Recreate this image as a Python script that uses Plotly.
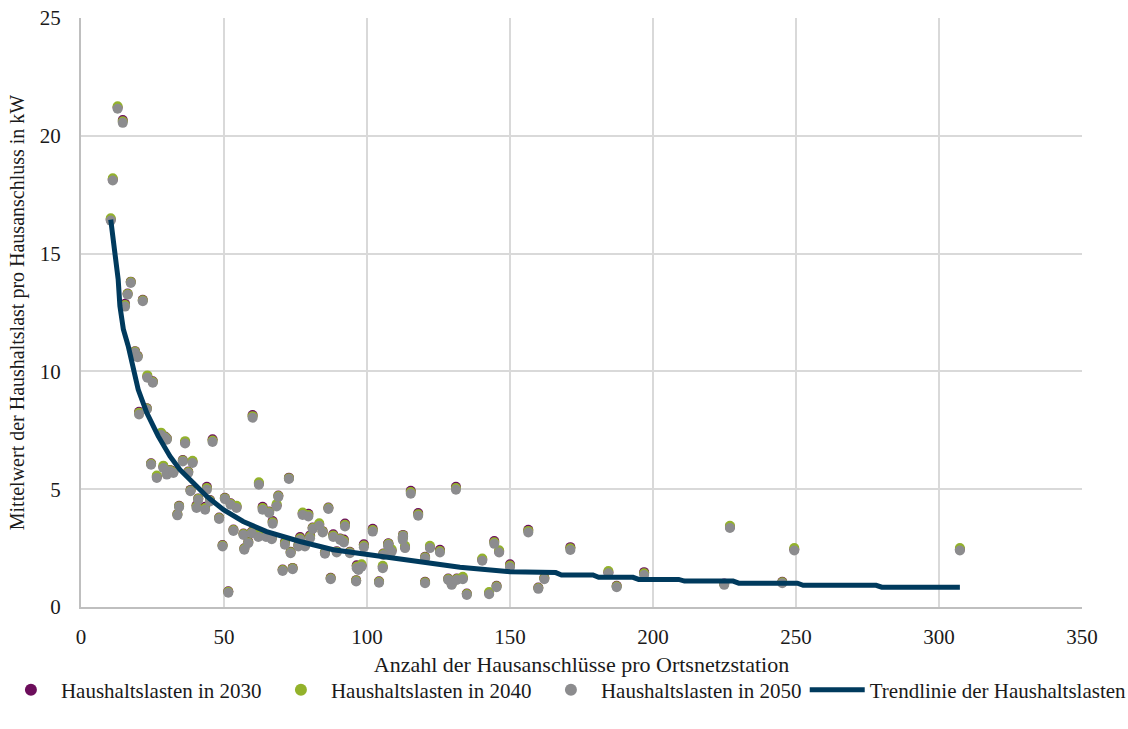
import plotly.graph_objects as go

# Stations: number of house connections per substation (x) and mean household load in kW
stations_x = [10.4, 11.1, 12.8, 14.6, 17.4, 16.3, 15.4, 21.6, 18.9, 19.8,
              23.2, 25.1, 20.3, 23.0, 28.0, 29.4, 30.0, 36.4, 46.0, 24.5,
              26.5, 28.8, 31.1, 30.0, 35.6, 39.0, 37.5, 32.3, 38.3, 44.0,
              41.0, 34.3, 33.7, 40.4, 43.4, 45.1, 48.3, 50.3, 52.3, 54.4,
              53.3, 49.5, 51.5, 56.8, 57.1, 60.0, 62.2, 72.7, 69.0, 68.4,
              63.5, 65.8, 67.0, 59.7, 62.0, 64.7, 66.7, 58.5, 71.3, 73.3,
              70.5, 74.0, 77.5, 79.5, 86.5, 81.0, 83.3, 84.5, 76.6, 80.1,
              76.0, 78.3, 85.3, 88.2, 90.6, 91.9, 89.4, 92.3, 87.3, 94.0,
              96.4, 96.2, 115.3, 131.1, 117.9, 102.0, 112.5, 113.3, 98.9, 107.4,
              108.6, 105.7, 122.0, 125.5, 120.3, 98.1, 97.0, 105.5, 104.2, 120.3,
              128.4, 129.6, 131.4, 133.5, 134.9, 156.4, 144.5, 146.2, 140.3, 150.0,
              142.7, 145.3, 162.0, 159.9, 171.1, 184.4, 187.3, 196.9, 226.9, 224.9,
              249.4, 245.2, 307.3, 112.6, 107.5]

load_2050 = [16.40, 18.10, 21.15, 20.55, 13.75, 13.25, 12.75, 12.98, 10.80, 10.60,
             9.73, 9.52, 8.17, 8.38, 7.30, 7.18, 7.10, 6.94, 7.00, 6.04,
             5.48, 5.90, 5.76, 5.62, 6.18, 6.11, 5.69, 5.69, 4.91, 4.98,
             4.55, 4.24, 3.89, 4.20, 4.13, 4.48, 3.74, 4.58, 4.34, 4.20,
             3.23, 2.57, 0.61, 3.06, 2.43, 8.03, 5.19, 5.43, 4.67, 4.27,
             4.13, 3.99, 3.53, 3.13, 2.97, 2.97, 2.88, 2.71, 2.64, 2.28,
             1.53, 1.60, 3.91, 3.84, 4.16, 3.31, 3.45, 3.16, 2.85, 2.92,
             2.57, 2.57, 2.26, 2.97, 2.85, 2.74, 2.31, 3.42, 1.18, 2.28,
             1.65, 1.08, 4.81, 4.98, 3.87, 3.20, 2.85, 2.50, 2.54, 2.57,
             2.35, 2.21, 2.50, 2.31, 2.07, 1.71, 1.57, 1.65, 1.03, 1.01,
             1.15, 0.94, 1.15, 1.18, 0.51, 3.16, 2.68, 2.31, 1.96, 1.69,
             0.54, 0.84, 1.18, 0.77, 2.42, 1.43, 0.84, 1.36, 3.35, 0.94,
             2.40, 1.01, 2.40, 3.00, 2.64]

load_2040 = [16.50, 18.20, 21.25, 20.62, 13.79, 13.29, 12.82, 13.02, 10.84, 10.64,
             9.83, 9.56, 8.24, 8.42, 7.40, 7.22, 7.14, 7.04, 7.07, 6.08,
             5.58, 6.00, 5.80, 5.66, 6.22, 6.21, 5.73, 5.73, 4.95, 5.05,
             4.59, 4.28, 3.93, 4.27, 4.20, 4.52, 3.78, 4.62, 4.38, 4.30,
             3.27, 2.61, 0.65, 3.10, 2.47, 8.10, 5.29, 5.47, 4.71, 4.37,
             4.20, 4.03, 3.60, 3.17, 3.07, 3.01, 2.92, 2.75, 2.71, 2.32,
             1.57, 1.64, 4.01, 3.91, 4.20, 3.35, 3.55, 3.20, 2.92, 2.99,
             2.61, 2.61, 2.30, 3.04, 2.89, 2.81, 2.35, 3.49, 1.22, 2.32,
             1.72, 1.12, 4.88, 5.05, 3.94, 3.27, 2.92, 2.60, 2.61, 2.64,
             2.45, 2.25, 2.60, 2.38, 2.11, 1.81, 1.61, 1.75, 1.07, 1.05,
             1.19, 0.98, 1.19, 1.28, 0.55, 3.23, 2.75, 2.41, 2.06, 1.76,
             0.64, 0.88, 1.22, 0.81, 2.49, 1.53, 0.88, 1.43, 3.45, 0.98,
             2.50, 1.05, 2.50, 3.04, 2.68]

load_2030 = [16.45, 18.15, 21.20, 20.67, 13.81, 13.31, 12.87, 13.04, 10.86, 10.66,
             9.78, 9.58, 8.29, 8.44, 7.35, 7.24, 7.16, 6.99, 7.12, 6.10,
             5.53, 5.95, 5.82, 5.68, 6.24, 6.16, 5.75, 5.75, 4.97, 5.10,
             4.61, 4.30, 3.95, 4.32, 4.25, 4.54, 3.80, 4.64, 4.40, 4.25,
             3.29, 2.63, 0.67, 3.12, 2.49, 8.15, 5.24, 5.49, 4.73, 4.32,
             4.25, 4.05, 3.65, 3.19, 3.02, 3.03, 2.94, 2.77, 2.76, 2.34,
             1.59, 1.66, 3.96, 3.96, 4.22, 3.37, 3.50, 3.22, 2.97, 3.04,
             2.63, 2.63, 2.32, 3.09, 2.91, 2.86, 2.37, 3.54, 1.24, 2.34,
             1.77, 1.14, 4.93, 5.10, 3.99, 3.32, 2.97, 2.55, 2.66, 2.69,
             2.40, 2.27, 2.55, 2.43, 2.13, 1.76, 1.63, 1.70, 1.09, 1.07,
             1.21, 1.00, 1.21, 1.23, 0.57, 3.28, 2.80, 2.36, 2.01, 1.81,
             0.59, 0.90, 1.24, 0.83, 2.54, 1.48, 0.90, 1.48, 3.40, 1.00,
             2.45, 1.07, 2.45, 3.06, 2.70]

trend_x = [10.4, 11.3, 13.0, 13.6, 14.8, 16.5, 18.3, 20.0, 23.0, 27.0,
           31.1, 34.6, 39.3, 44.0, 49.8, 56.7, 64.9, 76.6, 88.2, 104.5,
           109.2, 120.9, 132.5, 150.0, 157.0, 166.0, 168.0, 179.0, 181.0, 193.0,
           195.0, 209.0, 211.0, 228.0, 230.0, 250.5, 252.5, 278.0, 280.0, 307.3]
trend_y = [16.44, 15.6, 13.9, 12.78, 11.79, 11.08, 10.23, 9.23, 8.24, 7.25,
           6.40, 5.83, 5.26, 4.69, 4.13, 3.63, 3.20, 2.78, 2.43, 2.14,
           2.07, 1.86, 1.69, 1.50, 1.46, 1.46, 1.36, 1.36, 1.26, 1.26,
           1.17, 1.17, 1.10, 1.10, 1.01, 1.01, 0.92, 0.92, 0.84, 0.84]

x_ticks = [0, 50, 100, 150, 200, 250, 300, 350]
y_ticks = [0, 5, 10, 15, 20, 25]

names = ["Haushaltslasten in 2030", "Haushaltslasten in 2040",
         "Haushaltslasten in 2050", "Trendlinie der Haushaltslasten"]
colors = ["#6C0D5B", "#93B22B", "#8C8C8E", "#003A5D"]

FONT = "Liberation Serif"
TXT = "#1a1a1a"

fig = go.Figure()
for name, ys, col in zip(names[:3], [load_2030, load_2040, load_2050], colors[:3]):
    fig.add_trace(go.Scatter(
        x=stations_x, y=ys, mode="markers", name=name, legend="legend",
        marker=dict(size=10, color=col, line=dict(width=0)),
    ))
fig.add_trace(go.Scatter(
    x=trend_x, y=trend_y, mode="lines", name=names[3], legend="legend2",
    line=dict(color=colors[3], width=5),
))

fig.update_layout(
    width=1128, height=729,
    margin=dict(l=81, r=46, t=18, b=122, autoexpand=False),
    paper_bgcolor="white", plot_bgcolor="white",
    font=dict(family=FONT, size=20, color=TXT),
    showlegend=True,
    legend=dict(
        orientation="h", x=-0.08, xanchor="left", y=-0.141, yanchor="middle",
        font=dict(family=FONT, size=21, color=TXT),
        entrywidth=205, entrywidthmode="pixels", itemwidth=50,
        itemsizing="constant", tracegroupgap=0, bgcolor="rgba(0,0,0,0)",
    ),
    legend2=dict(
        orientation="h", x=0.723, xanchor="left", y=-0.141, yanchor="middle",
        font=dict(family=FONT, size=21, color=TXT),
        itemwidth=55, bgcolor="rgba(0,0,0,0)",
    ),
)
fig.update_xaxes(
    range=[0, 350], tickvals=x_ticks, showgrid=True, gridcolor="#D9D9D9", gridwidth=1.5,
    showline=True, linecolor="#BFBFBF", linewidth=2, zeroline=False, automargin=False,
    ticks="", ticklabelstandoff=10, ticklabeloverflow="allow",
    tickfont=dict(family=FONT, size=21, color=TXT),
    title=dict(text="Anzahl der Hausanschlüsse pro Ortsnetzstation",
               font=dict(family=FONT, size=22, color=TXT), standoff=8),
)
fig.update_yaxes(
    range=[0, 25], tickvals=y_ticks, showgrid=True, gridcolor="#D9D9D9", gridwidth=1.5,
    showline=True, linecolor="#BFBFBF", linewidth=2, zeroline=False, automargin=False,
    ticks="", ticklabelstandoff=14, ticklabeloverflow="allow",
    tickfont=dict(family=FONT, size=21, color=TXT),
    title=dict(text="Mittelwert der Haushaltslast pro Hausanschluss in kW",
               font=dict(family=FONT, size=20, color=TXT), standoff=10),
)
fig.write_html("out.html", config={"displayModeBar": False},
               post_script="document.body.style.margin='0px';")
